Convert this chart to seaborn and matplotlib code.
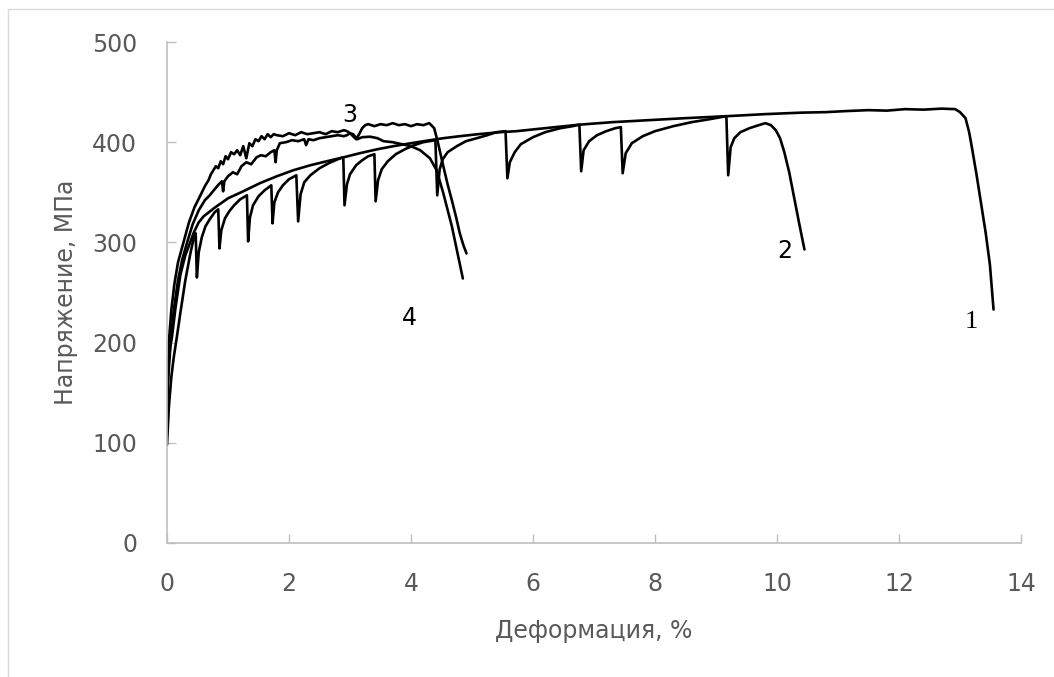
import numpy as np
import pandas as pd
import seaborn as sns
import matplotlib
matplotlib.use("Agg")
import matplotlib.pyplot as plt
from matplotlib.patches import Rectangle

# ---------------- data ----------------
strain_1 = [0.00, 0.02, 0.05, 0.08, 0.14, 0.22, 0.30, 0.38, 0.44, 0.52, 0.60, 0.79, 1.00,
            1.25, 1.52, 1.80, 2.07, 2.35, 2.62, 2.90, 3.16, 3.45, 3.71, 4.00, 4.26, 4.53,
            4.80, 5.10, 5.46, 5.73, 6.20, 6.76, 7.30, 7.90, 8.50, 9.19, 9.80, 10.40, 10.80,
            11.11, 11.50, 11.80, 12.10, 12.40, 12.70, 12.92, 13.00, 13.09, 13.15, 13.20,
            13.27, 13.34, 13.42, 13.49, 13.55]
stress_1 = [150, 175, 195, 205, 235, 268, 287, 300, 310, 320, 326, 335, 344,
            351, 359, 366, 372, 377, 381, 385, 389, 393, 396, 399, 401.5, 404,
            406, 408, 410, 411, 414, 417.5, 420, 422, 424, 426, 428, 429.5, 430,
            431, 432, 431.5, 433, 432.5, 433.5, 433, 430, 424, 410, 393,
            368, 341, 310, 278, 233]

strain_2 = [0.00, 0.03, 0.07, 0.11, 0.16, 0.22, 0.30, 0.38, 0.44, 0.47, 0.49, 0.52, 0.57,
            0.63, 0.70, 0.78, 0.84, 0.86, 0.89, 0.95, 1.02, 1.10, 1.20, 1.31, 1.33, 1.36,
            1.41, 1.50, 1.60, 1.71, 1.73, 1.76, 1.82, 1.90, 2.00, 2.12, 2.15, 2.19, 2.25,
            2.35, 2.50, 2.65, 2.80, 2.89, 2.91, 2.95, 3.00, 3.10, 3.20, 3.30, 3.40, 3.42,
            3.46, 3.52, 3.62, 3.75, 3.90, 4.05, 4.20, 4.40, 4.43, 4.47, 4.52, 4.60, 4.75,
            4.90, 5.08, 5.25, 5.40, 5.55, 5.58, 5.62, 5.70, 5.80, 6.00, 6.20, 6.45, 6.65,
            6.76, 6.79, 6.83, 6.92, 7.05, 7.20, 7.35, 7.44, 7.47, 7.52, 7.62, 7.80, 8.00,
            8.30, 8.60, 8.90, 9.17, 9.20, 9.24, 9.30, 9.40, 9.55, 9.70, 9.81, 9.90, 9.98,
            10.05, 10.12, 10.20, 10.28, 10.36, 10.45]
stress_2 = [98, 135, 165, 185, 205, 230, 262, 288, 305, 309, 265, 290, 305,
            316, 323, 330, 333, 294, 312, 324, 331, 337, 343, 347, 301, 325,
            337, 346, 352, 357, 319, 340, 350, 357, 363, 367, 321, 348, 360,
            367, 374, 379, 383, 385, 337, 358, 368, 377, 382, 386, 388, 341,
            362, 373, 381, 388, 393, 397, 400, 402, 347, 373, 383, 390, 396,
            401, 404, 407, 410, 411, 364, 380, 390, 398, 405, 410, 414, 416,
            417.5, 371, 392, 401, 407, 411, 414, 415, 369, 389, 399, 406, 411,
            416, 420, 423, 426, 367, 395, 404, 410, 414, 417, 419, 417, 412,
            404, 390, 370, 345, 320, 293]

strain_3 = [0.00, 0.01, 0.03, 0.07, 0.12, 0.18, 0.27, 0.36, 0.45, 0.54, 0.62, 0.68, 0.72,
            0.76, 0.80, 0.84, 0.88, 0.92, 0.96, 1.00, 1.05, 1.10, 1.15, 1.20, 1.25, 1.30,
            1.35, 1.40, 1.45, 1.50, 1.55, 1.60, 1.65, 1.70, 1.75, 1.80, 1.90, 2.00, 2.10,
            2.20, 2.30, 2.40, 2.50, 2.60, 2.70, 2.80, 2.90, 2.95, 3.00, 3.05, 3.10, 3.15,
            3.20, 3.25, 3.30, 3.40, 3.50, 3.60, 3.70, 3.80, 3.90, 4.00, 4.10, 4.20, 4.30,
            4.38, 4.44, 4.53, 4.60, 4.67, 4.74, 4.80, 4.86, 4.91]
stress_3 = [125, 150, 200, 232, 258, 280, 300, 320, 335, 346, 356, 362, 368,
            372, 376, 374, 381, 378, 386, 383, 390, 388, 392, 387, 396, 384,
            399, 396, 403, 401, 406, 403, 408, 405, 408, 407, 406, 409, 407,
            410, 408, 409, 410, 408, 411, 410, 412, 411, 409, 406, 403, 408,
            414, 417, 418, 416, 418, 417, 419, 417, 418, 416, 418, 417, 419,
            414, 400, 376, 358, 342, 325, 309, 297, 289]

strain_4 = [0.00, 0.02, 0.06, 0.11, 0.18, 0.25, 0.33, 0.42, 0.52, 0.62, 0.70, 0.78, 0.85,
            0.90, 0.92, 0.94, 1.00, 1.08, 1.15, 1.22, 1.30, 1.38, 1.47, 1.54, 1.62, 1.70,
            1.76, 1.78, 1.80, 1.85, 1.95, 2.05, 2.15, 2.25, 2.28, 2.32, 2.40, 2.50, 2.60,
            2.70, 2.80, 2.90, 2.95, 3.00, 3.05, 3.12, 3.20, 3.33, 3.45, 3.55, 3.70, 3.85,
            4.00, 4.15, 4.31, 4.42, 4.53, 4.67, 4.76, 4.85]
stress_4 = [140, 165, 200, 232, 262, 283, 300, 318, 332, 342, 347, 353, 358,
            361, 351, 361, 366, 370, 368, 376, 380, 378, 385, 387, 386, 390,
            392, 380, 392, 399, 400, 402, 401, 403, 397, 403, 402, 404, 405,
            406, 407, 406, 407, 409, 408, 403, 405, 405.5, 404, 401, 400, 398,
            396, 392, 384, 372, 349, 316, 290, 264]

curve_names = ["1", "2", "3", "4"]
label_x = [13.18, 10.13, 3.00, 3.98]
label_y = [221, 291, 427, 225]

x_ticks = [0, 2, 4, 6, 8, 10, 12, 14]
y_ticks = [0, 100, 200, 300, 400, 500]
x_title = "Деформация, %"
y_title = "Напряжение, МПа"

# ---------------- build table ----------------
frames = []
for name, xs, ys in zip(curve_names,
                        [strain_1, strain_2, strain_3, strain_4],
                        [stress_1, stress_2, stress_3, stress_4]):
    frames.append(pd.DataFrame({"strain": xs, "stress": ys, "curve": name}))
df = pd.concat(frames, ignore_index=True)

# ---------------- plot ----------------
sns.set_theme(style="white")
plt.rcParams["font.family"] = ["DejaVu Sans"]

fig = plt.figure(figsize=(10.54, 6.77), dpi=100)
ax = fig.add_axes([167 / 1054, 1 - 543 / 677, 854 / 1054, 501 / 677])

sns.lineplot(data=df, x="strain", y="stress", units="curve", estimator=None,
             sort=False, color="black", linewidth=1.9, ax=ax, legend=False)

ax.set_xlim(0, 14)
ax.set_ylim(0, 500)
ax.set_xticks(x_ticks)
ax.set_yticks(y_ticks)

for side in ["top", "right"]:
    ax.spines[side].set_visible(False)
for side in ["left", "bottom"]:
    ax.spines[side].set_color("#BFBFBF")
    ax.spines[side].set_linewidth(1.2)

ax.tick_params(axis="both", which="major", bottom=True, left=True,
               direction="in", length=6.5, width=1.0, color="#BFBFBF",
               labelsize=17, labelcolor="#595959")
ax.tick_params(axis="x", pad=21)
ax.tick_params(axis="y", pad=21.5)

ax.set_xlabel(x_title, fontsize=17, color="#595959")
ax.set_ylabel(y_title, fontsize=17, color="#595959")
ax.xaxis.set_label_coords(0.5, -0.1756)
ax.xaxis.label.set_va("center")
ax.yaxis.set_label_coords(-0.1183, 0.5)
ax.yaxis.label.set_va("center")

for name, lx, ly in zip(curve_names, label_x, label_y):
    if name == "1":
        ax.text(lx, ly, name, family=["Liberation Serif"], fontsize=19,
                color="black", ha="center", va="center")
    else:
        ax.text(lx, ly, name, family=["DejaVu Sans"], fontsize=17,
                color="black", ha="center", va="center")

# light outer chart-area border (top & left visible in the reference)
fig.add_artist(Rectangle((8 / 1054, -1.0), 2.0, 1.0 + (1 - 9 / 677),
                         transform=fig.transFigure, fill=False,
                         edgecolor="#D9D9D9", linewidth=1.0))

fig.savefig("out.png", dpi=100)
